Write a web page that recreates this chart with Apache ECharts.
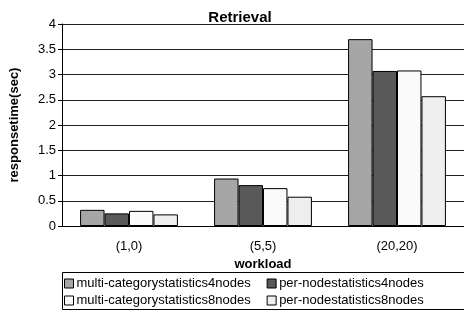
<!DOCTYPE html>
<html>
<head>
<meta charset="utf-8">
<script src="https://cdn.jsdelivr.net/npm/echarts@6/dist/echarts.min.js"></script>
<style>
  html, body { margin: 0; padding: 0; background: #fff; }
  #chart { width: 464px; height: 312px; }
</style>
</head>
<body>
<div id="chart"></div>
<script>
// workload categories
var categories = ['(1,0)', '(5,5)', '(20,20)'];
var seriesNames = [
  'multi-categorystatistics4nodes',
  'per-nodestatistics4nodes',
  'multi-categorystatistics8nodes',
  'per-nodestatistics8nodes'
];
var multiCat4 = [0.32, 0.94, 3.70];
var perNode4 = [0.25, 0.81, 3.07];
var multiCat8 = [0.30, 0.75, 3.08];
var perNode8 = [0.23, 0.58, 2.57];
var colors = ['#a6a6a6', '#595959', '#fafafa', '#eeeeee'];

var font = 'Arial, "Liberation Sans", sans-serif';
var values = [multiCat4, perNode4, multiCat8, perNode8];

var series = values.map(function (v, i) {
  return {
    name: seriesNames[i],
    type: 'bar',
    data: v,
    barGap: '0%',
    barCategoryGap: '27%',
    itemStyle: { color: colors[i], borderColor: '#000', borderWidth: 1 }
  };
});

var legendCommon = {
  left: 64,
  padding: 0,
  itemWidth: 9,
  itemHeight: 9,
  itemGap: 16,
  icon: 'rect',
  selectedMode: false,
  itemStyle: { borderColor: '#000', borderWidth: 1 },
  textStyle: { fontFamily: font, fontSize: 13, color: '#000', padding: [0, 0, 0, -2] }
};

var myEcharts = echarts.init(document.getElementById('chart'));
var option = {
  animation: false,
  title: {
    text: 'Retrieval',
    left: 235,
    textAlign: 'center',
    top: 5,
    textStyle: { fontFamily: font, fontSize: 15, fontWeight: 'bold', color: '#000' }
  },
  grid: { left: 56, top: 24, width: 409, height: 202 },
  legend: [
    Object.assign({ top: 277, data: [seriesNames[0], seriesNames[1]] }, legendCommon),
    Object.assign({ top: 294, data: [seriesNames[2], seriesNames[3]] }, legendCommon)
  ],
  graphic: [{
    type: 'polyline',
    shape: { points: [[62.5, 272.5], [470, 272.5]] },
    style: { stroke: '#000', lineWidth: 1 }
  }, {
    type: 'polyline',
    shape: { points: [[62.5, 272.5], [62.5, 309.5], [470, 309.5]] },
    style: { stroke: '#000', lineWidth: 1, fill: null }
  }],
  xAxis: {
    type: 'category',
    data: categories,
    name: 'workload',
    nameLocation: 'middle',
    nameGap: 30,
    nameTextStyle: { fontFamily: font, fontSize: 13, fontWeight: 'bold', color: '#000' },
    axisLine: { lineStyle: { color: '#000' } },
    axisTick: { length: 4, lineStyle: { color: '#000' } },
    axisLabel: { fontFamily: font, fontSize: 13, color: '#000', margin: 14 }
  },
  yAxis: {
    type: 'value',
    min: 0,
    max: 4,
    interval: 0.5,
    name: 'responsetime(sec)',
    nameLocation: 'middle',
    nameGap: 41,
    nameRotate: 90,
    nameTextStyle: { fontFamily: font, fontSize: 13, fontWeight: 'bold', color: '#000' },
    axisLine: { show: true, lineStyle: { color: '#000' } },
    axisTick: { show: true, length: 4, lineStyle: { color: '#000' } },
    axisLabel: { fontFamily: font, fontSize: 13, color: '#000', margin: 6 },
    splitLine: { lineStyle: { color: '#222', width: 1 } }
  },
  series: series
};
myEcharts.setOption(option);
</script>
</body>
</html>
